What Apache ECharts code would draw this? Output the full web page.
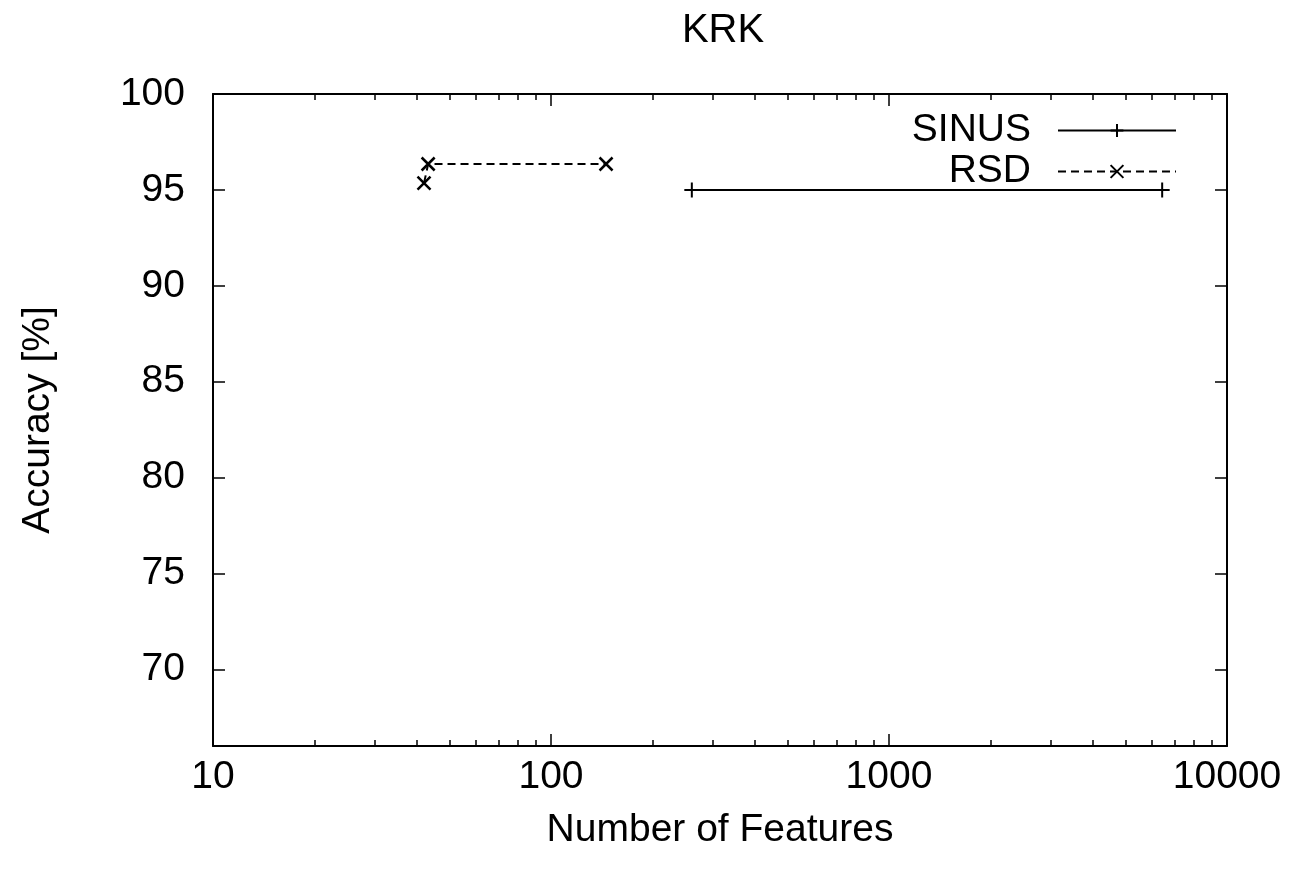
<!DOCTYPE html>
<html lang="en">
<head>
    <meta charset="utf-8">
    <script src="https://cdn.jsdelivr.net/npm/echarts@6/dist/echarts.min.js"></script>
    <title>KRK</title>
    <style>
        html, body {margin: 0; padding: 0; background: #fff;}
    </style>
</head>
<body>
<div id="main" style="width: 1298px;height:878px;"></div>
<script type="text/javascript">
    // data: [features, accuracy]
    var sinusPoints = [[261, 95.0], [6430, 95.0]];
    var rsdPoints = [[42.1, 95.35], [43.3, 96.35], [145.5, 96.35]];
    var yTicks = [70, 75, 80, 85, 90, 95, 100];
    var xMajor = [10, 100, 1000, 10000];
    var xMinor = [20, 30, 40, 50, 60, 70, 80, 90,
        200, 300, 400, 500, 600, 700, 800, 900,
        2000, 3000, 4000, 5000, 6000, 7000, 8000, 9000];

    var font = 'Liberation Sans';
    var fs = 39;
    var myChart = echarts.init(document.getElementById('main'));

    var plusSymbol = 'path://M10,0L10,20M0,10L20,10';
    var crossSymbol = 'path://M0,0L20,20M20,0L0,20';

    function logAxis(pos, ticks, len, labels, line) {
        return {
            type: 'log', logBase: 10, min: 10, max: 10000,
            position: pos,
            axisLine: {show: line, onZero: false, lineStyle: {color: '#000', width: 2}},
            axisTick: {show: true, inside: true, length: len, customValues: ticks,
                lineStyle: {color: '#000', width: 1.5}},
            axisLabel: labels ? {show: true, customValues: xMajor, margin: 12,
                formatter: function (v) { return String(Math.round(v)); },
                color: '#000', fontSize: fs, fontFamily: font} : {show: false},
            splitLine: {show: false},
            minorTick: {show: false}
        };
    }

    function valAxis(pos, labels) {
        return {
            type: 'value', min: 66, max: 100,
            position: pos,
            axisLine: {show: true, onZero: false, lineStyle: {color: '#000', width: 2}},
            axisTick: {show: true, inside: true, length: 12, customValues: yTicks,
                lineStyle: {color: '#000', width: 1.5}},
            axisLabel: labels ? {show: true, customValues: yTicks, margin: 28,
                color: '#000', fontSize: fs, fontFamily: font} : {show: false},
            splitLine: {show: false}
        };
    }

    var xAxes = [
        logAxis('bottom', xMajor, 12, true, true),
        logAxis('bottom', xMinor, 6, false, false),
        logAxis('top', xMajor, 12, false, true),
        logAxis('top', xMinor, 6, false, false)
    ];
    xAxes[0].name = 'Number of Features';
    xAxes[0].nameLocation = 'middle';
    xAxes[0].nameGap = 65;
    xAxes[0].nameTextStyle = {color: '#000', fontSize: fs, fontFamily: font};

    var yAxes = [valAxis('left', true), valAxis('right', false)];
    yAxes[0].name = 'Accuracy [%]';
    yAxes[0].nameLocation = 'middle';
    yAxes[0].nameGap = 155;
    yAxes[0].nameTextStyle = {color: '#000', fontSize: fs, fontFamily: font};

    var option = {
        animation: false,
        backgroundColor: '#fff',
        title: {
            text: 'KRK',
            left: 718, top: 6,
            textAlign: 'center',
            textStyle: {color: '#000', fontSize: 40, fontWeight: 'normal', fontFamily: font}
        },
        grid: {left: 213, right: 71, top: 94, bottom: 132},
        legend: {
            right: 116, top: 106,
            orient: 'vertical',
            align: 'right',
            itemWidth: 118, itemHeight: 16,
            itemGap: 2,
            textStyle: {color: '#000', fontSize: fs, fontFamily: font, padding: [0, 22, 0, 0]},
            data: ['SINUS', 'RSD']
        },
        xAxis: xAxes,
        yAxis: yAxes,
        series: [
            {
                name: 'SINUS', type: 'line',
                data: sinusPoints,
                symbol: plusSymbol, symbolSize: 15,
                lineStyle: {color: '#000', width: 2, type: 'solid'},
                itemStyle: {color: '#000', borderColor: '#000', borderWidth: 2}
            },
            {
                name: 'RSD', type: 'line',
                data: rsdPoints,
                symbol: crossSymbol, symbolSize: 13,
                lineStyle: {color: '#000', width: 2, type: [8, 5]},
                itemStyle: {color: '#000', borderColor: '#000', borderWidth: 2.5}
            }
        ]
    };

    myChart.setOption(option);
</script>
</body>
</html>
